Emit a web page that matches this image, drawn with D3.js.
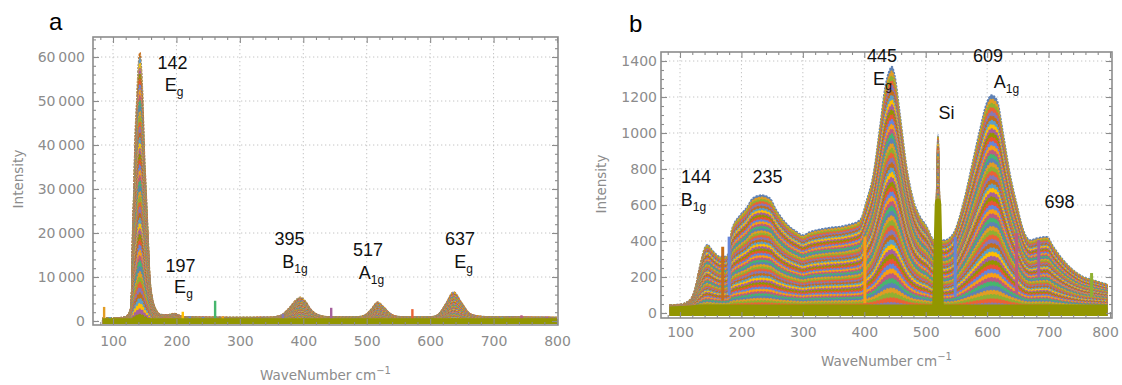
<!DOCTYPE html>
<html><head><meta charset="utf-8">
<script src="https://cdn.jsdelivr.net/npm/d3@7"></script>
<style>body{margin:0;background:#fff}svg{display:block}</style>
</head><body>
<svg id="chart" width="1122" height="385"></svg>
<script>
// ---------------- data ----------------
const palette = ["#5E81B5","#E19C24","#8FB032","#EB6235","#8778B3","#C56E1A","#5D9EC7","#FFBF00","#A5609D","#929600","#E95536","#6685D9","#F89F13","#BC5B80","#47B66D"];

// relative intensity of each overlaid spectrum (outermost first)
const spectrumLevels = [1.00,0.98,0.96,0.94,0.92,0.90,0.88,0.86,0.84,0.82,0.80,0.78,0.76,0.74,0.72,0.70,0.68,0.66,0.64,0.62,0.60,0.58,0.56,0.54,0.52,0.50,0.48,0.46,0.44,0.42,0.40,0.38,0.36,0.34,0.32,0.30,0.28,0.26,0.24,0.22,0.20,0.18,0.16,0.14,0.12,0.10,0.08,0.06,0.04,0.02];

// Panel a : strongest spectrum and weakest level
const wnA  = [84,100,115,122,126,128,130,131,133,135,137.5,140,142.5,144.5,147,149,152,155,158,161,164,168,175,185,197,206,215,250,300,350,365,378,388,395,402,412,425,440,470,490,500,508,517,526,536,550,580,605,615,625,637,649,660,672,690,720,760,800];
const maxA = [700,700,800,1200,2000,3000,10000,20000,30000,42000,50000,58000,61000,58000,50000,40000,30000,20000,10000,6000,4000,2500,1500,1400,1700,1200,900,850,800,850,1300,3000,4700,5400,4700,2600,1300,950,900,1000,1600,2800,4300,3300,1800,1000,900,1000,1800,4000,6600,4300,2000,1200,950,900,850,800];
const baseA = 250;
const spikeWnA  = [86,95,210,221,242,261,273,368,444,572,713,744,784];
const spikeTopA = [3200,900,2100,1000,900,4600,1000,1600,3000,2700,800,1300,1000];
const spikeColorA = ["#E19C24","#5D9EC7","#FFBF00","#6685D9","#6685D9","#47B66D","#F89F13","#8778B3","#A5609D","#EB6235","#5D9EC7","#BC5B80","#A5609D"];
const xTicksA = [100,200,300,400,500,600,700,800];
const yTicksA = [0,10000,20000,30000,40000,50000,60000];
const labelMainA = ["142","E","197","E","395","B","517","A","637","E"];
const labelSubA  = ["","g","","g","","1g","","1g","","g"];
const labelWnA   = [193.8,196.2,206.4,211.1,378.3,386.9,502,507.5,647,652.6];
const labelValA  = [57273,52273,11136,6364,17273,12045,14773,9545,17273,12045];

// Panel b
const wnB   = [83,100,116,124,132,141,145,150,157,165,173,179,184,198,208,219,233,246,257,273,290,300,311,339,372,393,404,415,426,434,440,445,450,458,469,480,491,502,510,515,518,520,522,525,530,545,561,577,588,599,607,616,626,637,648,659,670,681,697,708,724,740,756,773,789,796];
const maxB  = [45,48,72,128,256,368,380,360,333,313,313,330,461,544,583,639,655,639,572,498,452,433,450,472,489,517,628,777,1050,1257,1340,1369,1313,1109,813,628,535,480,420,405,700,989,700,405,405,443,609,850,1017,1165,1211,1183,1000,777,609,461,405,416,424,368,294,239,202,183,166,160];
const baseB = [20,22,25,28,30,30,30,30,30,30,30,30,30,30,30,30,30,30,30,30,30,30,30,30,30,30,30,30,30,30,30,30,30,30,30,30,30,30,30,35,380,620,380,35,30,30,30,30,30,30,30,30,30,30,30,30,30,30,30,30,30,30,30,30,30,30];
const spikeWnB  = [169.5,180,401,548,648,684,770];
const spikeLoB  = [70,100,55,90,110,200,90];
const spikeTopB = [368,424,424,424,444,405,222];
const spikeColorB = ["#C56E1A","#6685D9","#F89F13","#6685D9","#BC5B80","#A5609D","#8FB032"];
const xTicksB = [100,200,300,400,500,600,700,800];
const yTicksB = [0,200,400,600,800,1000,1200,1400];
const labelMainB = ["144","B","235","445","E","Si","609","A","698"];
const labelSubB  = ["","1g","","","g","","","1g",""];
const labelWnB   = [126,122,242.4,428.8,429.6,533.8,601.4,631.5,717.8];
const labelValB  = [722,594,722,1394,1267,1078,1394,1250,583];

// ---------------- drawing ----------------
const svg = d3.select("#chart");
const gray = "#8c8c8c";
const tickFont = "'DejaVu Sans', Verdana, sans-serif";
const annFont = "'Liberation Sans', Arial, sans-serif";

function drawPanel(o) {
  const f = o.frame;
  const x = d3.scaleLinear().domain([100, 800]).range(o.xRange);
  const y = d3.scaleLinear().domain(o.yDom).range(o.yRange);
  const g = svg.append("g");
  const clipId = "clip" + o.id;
  svg.append("defs").append("clipPath").attr("id", clipId)
    .append("rect").attr("x", f.l).attr("y", f.t).attr("width", f.r - f.l).attr("height", f.b - f.t);

  // grid
  const grid = g.append("g").attr("stroke", "#c4c4c4").attr("stroke-width", 1).attr("stroke-dasharray", "1.3,2.7");
  grid.selectAll(".gx").data(o.xTicks.filter(d => x(d) < f.r - 3)).join("line")
    .attr("x1", d => x(d)).attr("x2", d => x(d)).attr("y1", f.t).attr("y2", f.b);
  grid.selectAll(".gy").data(o.yTicks).join("line")
    .attr("y1", d => y(d)).attr("y2", d => y(d)).attr("x1", f.l).attr("x2", f.r);

  // spectra
  const data = g.append("g").attr("clip-path", `url(#${clipId})`);
  const baseAt = j => Array.isArray(o.base) ? o.base[j] : o.base;
  const area = d3.area().x(d => x(d[0])).y0(y(0) + 3).y1(d => y(d[1])).curve(d3.curveMonotoneX);
  const line = d3.line().x(d => x(d[0])).y(d => y(d[1])).curve(d3.curveMonotoneX);
  spectrumLevels.forEach((lv, i) => {
    const pts = o.wn.map((w, j) => [w, baseAt(j) + lv * (o.max[j] - baseAt(j))]);
    const c = palette[(i + o.colorShift) % palette.length];
    data.append("path").attr("d", area(pts)).attr("fill", c);
    data.append("path").attr("d", line(pts)).attr("fill", "none").attr("stroke", c)
      .attr("stroke-width", 1.6).attr("stroke-dasharray", "2.2,1.2");
  });
  // spikes
  data.selectAll(".spk").data(o.spikeWn).join("line")
    .attr("x1", d => x(d)).attr("x2", d => x(d))
    .attr("y1", (d, i) => y(o.spikeLo ? o.spikeLo[i] : o.base))
    .attr("y2", (d, i) => y(o.spikeTop[i]))
    .attr("stroke", (d, i) => o.spikeColor[i]).attr("stroke-width", o.spikeW);
  // weakest spectrum
  const basePts = o.wn.map((w, j) => [w, baseAt(j)]);
  data.append("path").attr("d", area(basePts)).attr("fill", "#929600");
  data.append("path").attr("d", line(basePts)).attr("fill", "none").attr("stroke", "#929600").attr("stroke-width", o.baseW);

  // frame + ticks
  const fr = g.append("g");
  const minorX = d3.range(80, 801, 20).filter(d => d % 100 !== 0 && x(d) > f.l && x(d) < f.r);
  const minorY = d3.range(0, o.yDom[1] * 1.1, o.yMinor).filter(d => y(d) > f.t + 1 && y(d) < f.b);
  const ax = [
    [d3.axisBottom(x).tickValues(o.xTicks).tickSize(-6), `translate(0,${f.b})`],
    [d3.axisBottom(x).tickValues(minorX).tickSize(-3), `translate(0,${f.b})`],
    [d3.axisTop(x).tickValues(o.xTicks).tickSize(-6), `translate(0,${f.t})`],
    [d3.axisTop(x).tickValues(minorX).tickSize(-3), `translate(0,${f.t})`],
    [d3.axisLeft(y).tickValues(o.yTicks).tickSize(-6), `translate(${f.l},0)`],
    [d3.axisLeft(y).tickValues(minorY).tickSize(-3), `translate(${f.l},0)`],
    [d3.axisRight(y).tickValues(o.yTicks).tickSize(-6), `translate(${f.r},0)`],
    [d3.axisRight(y).tickValues(minorY).tickSize(-3), `translate(${f.r},0)`]
  ];
  ax.forEach(([a, t]) => {
    const ga = fr.append("g").attr("transform", t).call(a.tickFormat(""));
    ga.select(".domain").remove();
    ga.selectAll("line").attr("stroke", gray).attr("stroke-width", 1.1);
    ga.selectAll("text").remove();
  });
  fr.append("rect").attr("x", f.l).attr("y", f.t).attr("width", f.r - f.l).attr("height", f.b - f.t)
    .attr("fill", "none").attr("stroke", gray).attr("stroke-width", 1.6);

  // tick labels
  const xl = g.append("g").attr("transform", `translate(0,${f.b})`)
    .call(d3.axisBottom(x).tickValues(o.xTicks).tickSize(0).tickPadding(o.xPad));
  xl.select(".domain").remove();
  xl.selectAll("text").attr("font-family", tickFont).attr("font-size", 14).attr("fill", gray);
  if (o.lastDx) xl.selectAll("text").filter(d => d === 800).attr("dx", o.lastDx);
  const yl = g.append("g").attr("transform", `translate(${f.l},0)`)
    .call(d3.axisLeft(y).tickValues(o.yTicks).tickSize(0).tickPadding(o.yPad).tickFormat(o.yFmt));
  yl.select(".domain").remove();
  yl.selectAll("text").attr("font-family", tickFont).attr("font-size", 14).attr("fill", gray);

  // axis titles
  g.append("text").attr("transform", `translate(${o.yTitle[0]},${o.yTitle[1]}) rotate(-90)`)
    .attr("text-anchor", "middle").attr("font-family", tickFont).attr("font-size", 13.5).attr("fill", gray)
    .text("Intensity");
  const xt = g.append("text").attr("x", (f.l + f.r) / 2).attr("y", o.xTitleY)
    .attr("text-anchor", "middle").attr("font-family", tickFont).attr("font-size", 13.5).attr("fill", gray);
  xt.append("tspan").text("WaveNumber cm");
  xt.append("tspan").attr("dy", -6).attr("font-size", 10).text("\u22121");

  // peak annotations
  o.labMain.forEach((m, i) => {
    const t = g.append("text").attr("x", x(o.labWn[i])).attr("y", y(o.labVal[i]))
      .attr("text-anchor", "middle").attr("font-family", annFont).attr("font-size", 18).attr("fill", "#111");
    t.append("tspan").text(m);
    if (o.labSub[i]) t.append("tspan").attr("dy", 5).attr("font-size", 12).text(o.labSub[i]);
  });

  // panel letter
  svg.append("text").attr("x", o.letter[0]).attr("y", o.letter[1]).attr("font-family", annFont)
    .attr("font-size", 24).attr("fill", "#000").text(o.id);
}

drawPanel({
  id: "a", frame: {l: 93, r: 558, t: 37, b: 325},
  xRange: [113, 557], yDom: [0, 60000], yRange: [321, 57], yMinor: 2000,
  wn: wnA, max: maxA, base: baseA, colorShift: 5,
  spikeWn: spikeWnA, spikeTop: spikeTopA, spikeColor: spikeColorA, spikeW: 2.4, baseW: 3.5,
  xTicks: xTicksA, yTicks: yTicksA, xPad: 11, yPad: 8,
  yFmt: d => d === 0 ? "0" : d3.format(",")(d).replace(",", "\u2009"),
  yTitle: [23, 179], xTitleY: 380, letter: [49, 30],
  labMain: labelMainA, labSub: labelSubA, labWn: labelWnA, labVal: labelValA
});

drawPanel({
  id: "b", frame: {l: 661, r: 1112, t: 52, b: 318},
  xRange: [680, 1110], yDom: [0, 1400], yRange: [313, 61], yMinor: 50,
  wn: wnB, max: maxB, base: baseB, colorShift: 0,
  spikeWn: spikeWnB, spikeLo: spikeLoB, spikeTop: spikeTopB, spikeColor: spikeColorB, spikeW: 3, baseW: 6,
  xTicks: xTicksB, yTicks: yTicksB, xPad: 9, yPad: 4, lastDx: -5,
  yFmt: d => String(d),
  yTitle: [606, 184], xTitleY: 366, letter: [629, 32],
  labMain: labelMainB, labSub: labelSubB, labWn: labelWnB, labVal: labelValB
});
</script>
</body></html>
